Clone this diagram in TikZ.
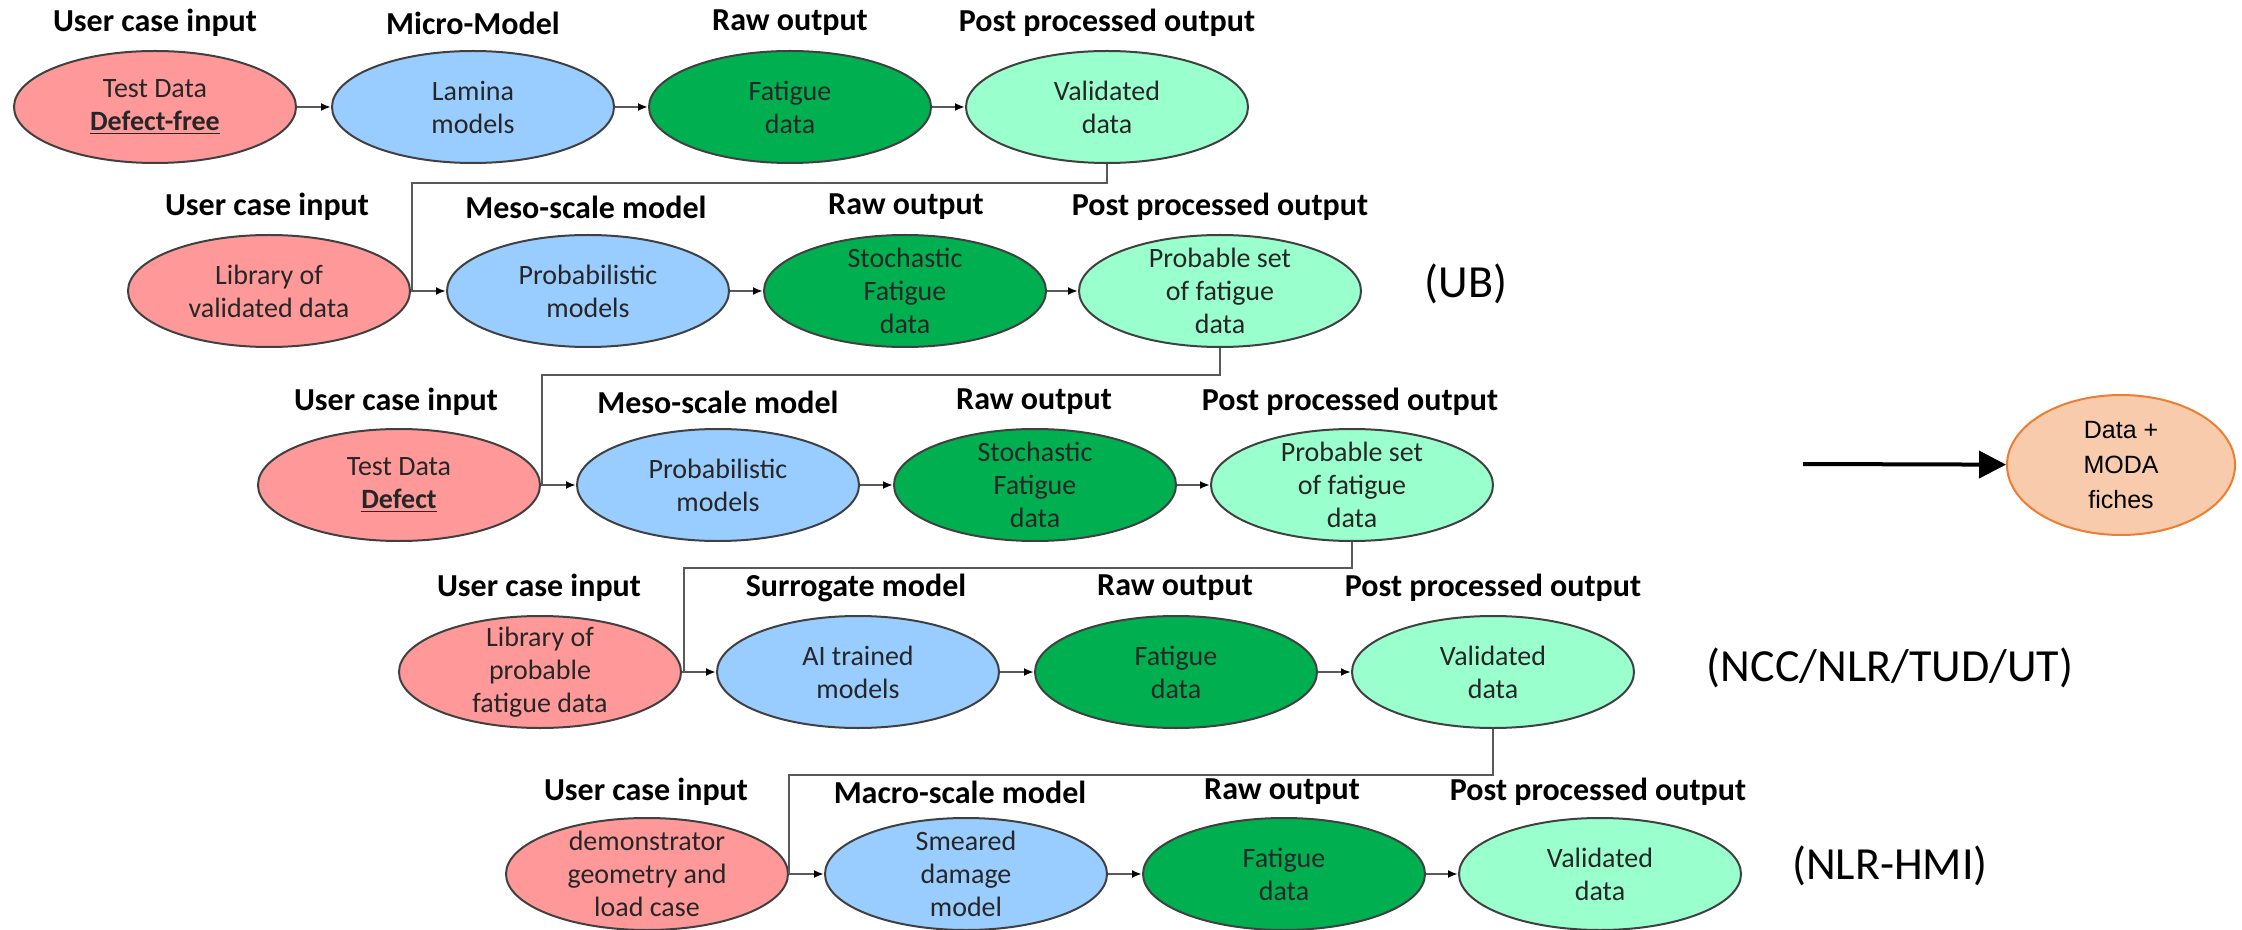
\documentclass[tikz,border=0pt]{standalone}
\usepackage{fontspec}
\setmainfont{Carlito}
\newfontfamily\arialfont{Liberation Sans}
\usetikzlibrary{arrows.meta,shapes.geometric}
\definecolor{pinkf}{HTML}{FF9999}
\definecolor{bluef}{HTML}{99CCFF}
\definecolor{greenf}{HTML}{00B050}
\definecolor{mintf}{HTML}{99FFCC}
\definecolor{edgec}{HTML}{404040}
\definecolor{linec}{HTML}{595959}
\definecolor{orangef}{HTML}{F8CBAD}
\definecolor{oranged}{HTML}{ED7D31}
\definecolor{txtc}{HTML}{262626}
\begin{document}
\begin{tikzpicture}[x=0.5pt,y=-0.5pt,
 ell/.style={ellipse, draw=edgec, line width=1pt, minimum width=141pt, minimum height=56pt, inner sep=0pt},
 inp/.style={ell, fill=pinkf}, mdl/.style={ell, fill=bluef},
 raw/.style={ell, fill=greenf}, pst/.style={ell, fill=mintf},
 etxt/.style={align=center, font=\fontsize{14}{16.5}\selectfont, text=txtc, inner sep=0pt},
 lab/.style={font=\fontsize{16}{19}\selectfont\bfseries, inner sep=0pt},
 side/.style={font=\fontsize{23}{27}\selectfont, inner sep=0pt},
 arr/.style={draw=linec, line width=1pt, -{Latex[length=5pt,width=4pt,color=black]}},
 conn/.style={draw=linec, line width=1pt},
 modaell/.style={ellipse, draw=oranged, fill=orangef, line width=1pt, minimum width=114pt, minimum height=70pt, inner sep=0pt},
 modatxt/.style={align=center, font=\arialfont\fontsize{12.5}{17.5}\selectfont, inner sep=0pt},
 bigarr/.style={line width=2pt, -{Triangle[length=13.5pt,width=13.5pt]}}]
\useasboundingbox (0,0) rectangle (2242,930);

% ---------- Row 1 ----------
\node[inp] (r1a) at (155,107) {};
\node[mdl] (r1b) at (473,107) {};
\node[raw] (r1c) at (790,107) {};
\node[pst] (r1d) at (1107,107) {};
\node[etxt] (r1at) at (r1a) {Test Data\\\underline{\textbf{Defect-free}}};
\node[etxt] (r1bt) at (r1b) {Lamina\\models};
\node[etxt] (r1ct) at (r1c) {Fatigue\\data};
\node[etxt] (r1dt) at (r1d) {Validated\\data};
\node[lab] (r1al) at (155,23) {User case input};
\node[lab] (r1bl) at (473,23) {Micro-Model};
\node[lab] (r1cl) at (790,23) {Raw output};
\node[lab] (r1dl) at (1107,23) {Post processed output};
\draw[arr] (r1a) -- (r1b);
\draw[arr] (r1b) -- (r1c);
\draw[arr] (r1c) -- (r1d);

% ---------- Row 2 ----------
\node[inp] (r2a) at (269,291) {};
\node[mdl] (r2b) at (588,291) {};
\node[raw] (r2c) at (905,291) {};
\node[pst] (r2d) at (1220,291) {};
\node[etxt] (r2at) at (r2a) {Library of\\validated data};
\node[etxt] (r2bt) at (r2b) {Probabilistic\\models};
\node[etxt] (r2ct) at (r2c) {Stochastic\\Fatigue\\data};
\node[etxt] (r2dt) at (r2d) {Probable set\\of fatigue\\data};
\node[lab] (r2al) at (267,207) {User case input};
\node[lab] (r2bl) at (586,207) {Meso-scale model};
\node[lab] (r2cl) at (906,207) {Raw output};
\node[lab] (r2dl) at (1220,207) {Post processed output};
\draw[arr] (r2a) -- (r2b);
\draw[arr] (r2b) -- (r2c);
\draw[arr] (r2c) -- (r2d);
\coordinate (j2) at (412,291);
\draw[conn] (r1d.south) -- ++(0,19) -| (j2);

% ---------- Row 3 ----------
\node[inp] (r3a) at (399,485) {};
\node[mdl] (r3b) at (718,485) {};
\node[raw] (r3c) at (1035,485) {};
\node[pst] (r3d) at (1352,485) {};
\node[etxt] (r3at) at (r3a) {Test Data\\\underline{\textbf{Defect}}};
\node[etxt] (r3bt) at (r3b) {Probabilistic\\models};
\node[etxt] (r3ct) at (r3c) {Stochastic\\Fatigue\\data};
\node[etxt] (r3dt) at (r3d) {Probable set\\of fatigue\\data};
\node[lab] (r3al) at (396,402) {User case input};
\node[lab] (r3bl) at (718,402) {Meso-scale model};
\node[lab] (r3cl) at (1034,402) {Raw output};
\node[lab] (r3dl) at (1350,402) {Post processed output};
\draw[arr] (r3a) -- (r3b);
\draw[arr] (r3b) -- (r3c);
\draw[arr] (r3c) -- (r3d);
\coordinate (j3) at (542,485);
\draw[conn] (r2d.south) -- ++(0,27) -| (j3);

% ---------- Row 4 ----------
\node[inp] (r4a) at (540,672) {};
\node[mdl] (r4b) at (858,672) {};
\node[raw] (r4c) at (1176,672) {};
\node[pst] (r4d) at (1493,672) {};
\node[etxt] (r4at) at (r4a) {Library of\\probable\\fatigue data};
\node[etxt] (r4bt) at (r4b) {AI trained\\models};
\node[etxt] (r4ct) at (r4c) {Fatigue\\data};
\node[etxt] (r4dt) at (r4d) {Validated\\data};
\node[lab] (r4al) at (539,588) {User case input};
\node[lab] (r4bl) at (856,588) {Surrogate model};
\node[lab] (r4cl) at (1175,588) {Raw output};
\node[lab] (r4dl) at (1493,588) {Post processed output};
\draw[arr] (r4a) -- (r4b);
\draw[arr] (r4b) -- (r4c);
\draw[arr] (r4c) -- (r4d);
\coordinate (j4) at (684,672);
\draw[conn] (r3d.south) -- ++(0,26) -| (j4);

% ---------- Row 5 ----------
\node[inp] (r5a) at (647,874) {};
\node[mdl] (r5b) at (966,874) {};
\node[raw] (r5c) at (1284,874) {};
\node[pst] (r5d) at (1600,874) {};
\node[etxt] (r5at) at (r5a) {demonstrator\\geometry and\\load case};
\node[etxt] (r5bt) at (r5b) {Smeared\\damage\\model};
\node[etxt] (r5ct) at (r5c) {Fatigue\\data};
\node[etxt] (r5dt) at (r5d) {Validated\\data};
\node[lab] (r5al) at (646,792) {User case input};
\node[lab] (r5bl) at (960,792) {Macro-scale model};
\node[lab] (r5cl) at (1282,792) {Raw output};
\node[lab] (r5dl) at (1598,792) {Post processed output};
\draw[arr] (r5a) -- (r5b);
\draw[arr] (r5b) -- (r5c);
\draw[arr] (r5c) -- (r5d);
\coordinate (j5) at (789,874);
\draw[conn] (r4d.south) -- ++(0,46) -| (j5);

% ---------- Side labels ----------
\node[side] (ub) at (1466,284) {(UB)};
\node[side] (ncc) at (1890,668) {(NCC/NLR/TUD/UT)};
\node[side] (nlr) at (1890,866) {(NLR-HMI)};

% ---------- MODA ----------
\node[modaell] (moda) at (2121,465) {};
\node[modatxt] (modat) at (moda) {Data +\\MODA\\fiches};
\coordinate (mstart) at (1803,464);
\draw[bigarr] (mstart) -- (moda);
\end{tikzpicture}
\end{document}
